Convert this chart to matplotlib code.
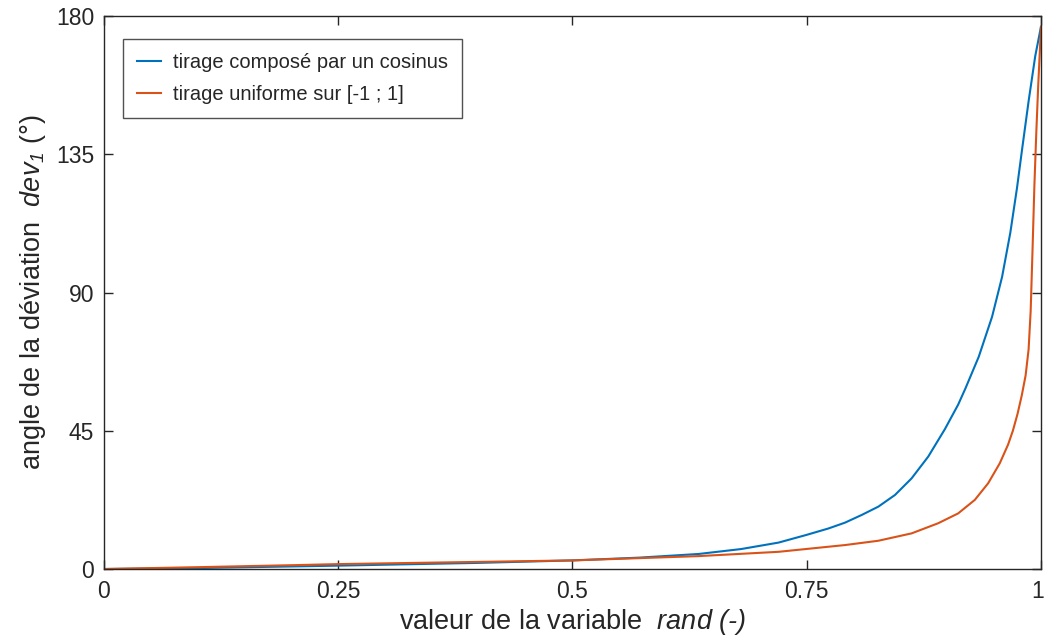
import matplotlib.pyplot as plt
from matplotlib.transforms import ScaledTranslation

# valeurs
x_cos = [0, 0.1, 0.25, 0.4, 0.5, 0.571, 0.6347, 0.68, 0.7199, 0.7497, 0.7732,
         0.7909, 0.8087, 0.8264, 0.8442, 0.8619, 0.8797, 0.8974, 0.9116, 0.9194,
         0.9336, 0.9478, 0.9585, 0.9673, 0.9744, 0.9798, 0.9869, 0.9939, 1.0]
y_cos = [0, 0.3, 1.1, 2.0, 2.8, 3.7, 4.9, 6.5, 8.6, 11.1, 13.2,
         15.1, 17.6, 20.3, 24.1, 29.5, 36.6, 45.5, 53.5, 58.8,
         69.1, 82.1, 95.1, 109.5, 124.0, 136.5, 152.5, 167.0, 176.5]

x_unif = [0, 0.1, 0.2087, 0.25, 0.5, 0.6347, 0.7199, 0.7554, 0.7909, 0.8264,
          0.8619, 0.8903, 0.9116, 0.9294, 0.9436, 0.956, 0.9649, 0.97, 0.975,
          0.9795, 0.9836, 0.9868, 0.989, 0.991, 0.993, 0.995, 0.997, 1.0]
y_unif = [0, 0.6, 1.3, 1.6, 2.8, 4.2, 5.6, 6.7, 7.8, 9.2,
          11.6, 14.9, 18.1, 22.5, 27.9, 34.4, 40.5, 45.0, 50.5,
          56.5, 63.0, 71.5, 84.0, 104.0, 125.0, 142.0, 157.0, 176.5]

xticks = [0, 0.25, 0.5, 0.75, 1]
xticklabels = ["0", "0.25", "0.5", "0.75", "1"]
yticks = [0, 45, 90, 135, 180]

plt.rcParams['font.family'] = ['Liberation Sans', 'DejaVu Sans']
plt.rcParams['mathtext.fontset'] = 'custom'
plt.rcParams['mathtext.rm'] = 'Liberation Sans:italic'
plt.rcParams['mathtext.it'] = 'Liberation Sans:italic'

txt = '#262626'
fig = plt.figure(figsize=(10.44, 6.41), dpi=100)
ax = fig.add_axes([0.0996, 0.1123, 0.8975, 0.8627])

ax.plot(x_cos, y_cos, color='#0072BD', lw=1.5, label='tirage composé par un cosinus')
ax.plot(x_unif, y_unif, color='#D95319', lw=1.5, label='tirage uniforme sur [-1 ; 1]')

ax.set_xlim(0, 1)
ax.set_ylim(0, 180)
ax.set_xticks(xticks)
ax.set_xticklabels(xticklabels)
ax.set_yticks(yticks)
ax.tick_params(direction='in', length=6.5, width=1, top=True, right=True,
               labelsize=16.5, colors=txt)
ax.tick_params(axis='x', pad=8)
ax.tick_params(axis='y', pad=7)
for s in ax.spines.values():
    s.set_color(txt)
    s.set_linewidth(1)

# le "1" en bout d'axe, un peu rentré pour rester dans l'image
last = ax.get_xticklabels()[-1]
last.set_transform(last.get_transform() + ScaledTranslation(-3 / 100, 0, fig.dpi_scale_trans))

ax.set_xlabel(r"valeur de la variable  $rand\ (‐)$",
              fontsize=19.5, color=txt, labelpad=3)
ax.set_ylabel(r"angle de la déviation  $dev_1$ (°)",
              fontsize=19.5, color=txt, labelpad=6)

leg = ax.legend(loc='upper left', bbox_to_anchor=(0.0199, 0.958), borderaxespad=0,
                fontsize=14.5, frameon=True, fancybox=False, handlelength=1.2,
                handletextpad=0.6, borderpad=0.7, labelspacing=0.62,
                labelcolor=txt)
leg.get_frame().set_edgecolor(txt)
leg.get_frame().set_linewidth(1)

plt.savefig('out.png', dpi=100)
